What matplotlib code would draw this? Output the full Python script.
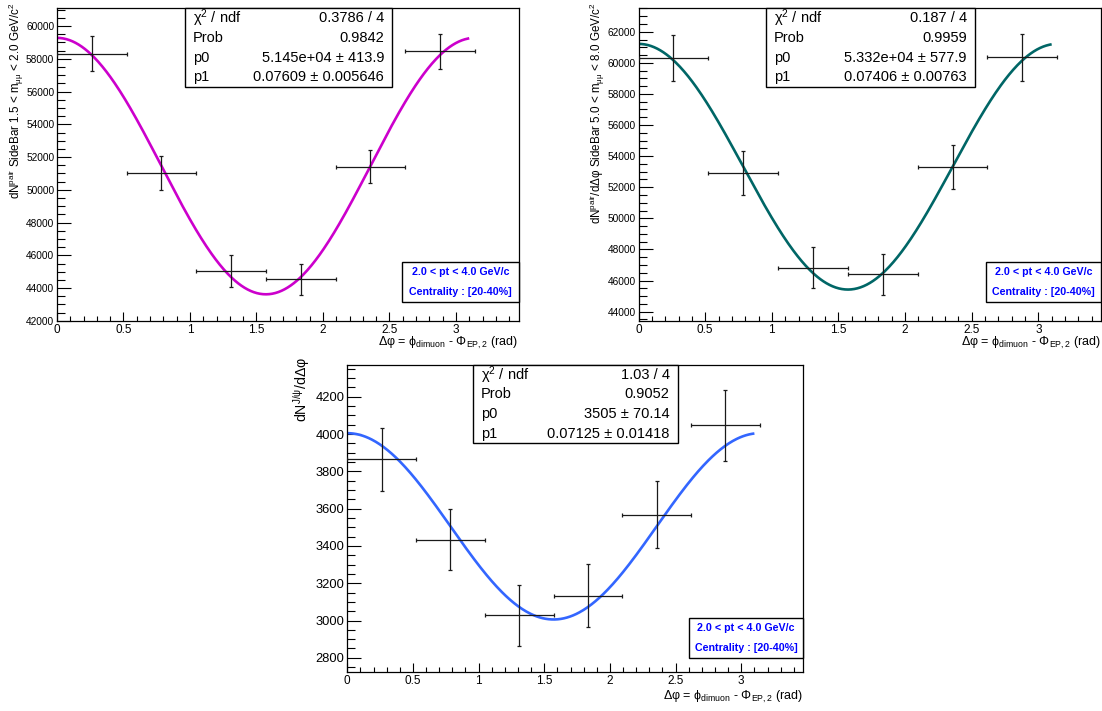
import numpy as np
import matplotlib
matplotlib.use("Agg")
import matplotlib.pyplot as plt
from matplotlib.patches import Rectangle
from matplotlib.ticker import MultipleLocator

plt.rcParams['font.family'] = ['Liberation Sans', 'DejaVu Sans']
plt.rcParams['mathtext.fontset'] = 'custom'
plt.rcParams['mathtext.rm'] = 'Liberation Sans'
plt.rcParams['mathtext.default'] = 'regular'

W, H = 1102, 711

# ---- data ----
dphi = [0.2618, 0.7854, 1.3090, 1.8326, 2.3562, 2.8798]
dphi_halfwidth = [0.2618] * 6

y_low = [58310, 51050, 45040, 44550, 51400, 58450]
e_low = [1070, 1030, 960, 950, 1010, 1090]
y_high = [60290, 52890, 46820, 46400, 53280, 60350]
e_high = [1480, 1420, 1330, 1340, 1415, 1490]
y_jpsi = [3864, 3434, 3028, 3133, 3568, 4046]
e_jpsi = [170, 162, 164, 170, 181, 190]

fit_p0 = [5.145e4, 5.332e4, 3505]
fit_p1 = [0.07609, 0.07406, 0.07125]
fit_range = [0.0, 3.09]

stat_labels = ["χ$^{2}$ / ndf", "Prob", "p0", "p1"]
stat_values = [
    ["0.3786 / 4", "0.9842", "5.145e+04 ± 413.9", "0.07609 ± 0.005646"],
    ["0.187 / 4", "0.9959", "5.332e+04 ± 577.9", "0.07406 ± 0.00763"],
    ["1.03 / 4", "0.9052", "3505 ± 70.14", "0.07125 ± 0.01418"],
]
ylabels = [
    "dN$^{pair}$ SideBar 1.5 < m$_{μμ}$ < 2.0 GeV/c$^{2}$",
    "dN$^{pair}$/dΔφ SideBar 5.0 < m$_{μμ}$ < 8.0 GeV/c$^{2}$",
    "dN$^{J/ψ}$/dΔφ",
]
xlabel = "Δφ = ϕ$_{dimuon}$ - Φ$_{EP,2}$ (rad)"
info_lines = ["2.0 < pt < 4.0 GeV/c", "Centrality : [20-40%]"]

colors = ['#cc00cc', '#006666', '#3366ff']

# ---- layout (pixels) ----
panels = [
    dict(ax=(57, 8.4, 518.5, 321), ylim=(41990, 61080), ymaj=2000, ymin=500, ytick_fs=7.3,
         stat=(185, 8.4, 392, 87.3), info=(402, 262, 518.5, 301.7),
         ylab=(16, 2), ylab_fs=8.4, xlab_base=346),
    dict(ax=(638.6, 8.4, 1101, 321), ylim=(43400, 63500), ymaj=2000, ymin=500, ytick_fs=7.3,
         stat=(766, 8.4, 975, 87.3), info=(986, 262, 1101, 301.7),
         ylab=(597, 2), ylab_fs=8.4, xlab_base=346),
    dict(ax=(347.3, 365, 803, 671.6), ylim=(2726, 4370), ymaj=200, ymin=50, ytick_fs=9.3,
         stat=(473, 365, 677.6, 443.3), info=(689, 618, 803, 658),
         ylab=(302, 357), ylab_fs=10.2, xlab_base=700),
]
series = [(y_low, e_low), (y_high, e_high), (y_jpsi, e_jpsi)]

fig = plt.figure(figsize=(W / 100, H / 100), dpi=100)


def fx(px):
    return px / W


def fy(py):
    return 1 - py / H


for i, p in enumerate(panels):
    l, t, r, b = p['ax']
    ax = fig.add_axes([fx(l), fy(b), fx(r) - fx(l), fy(t) - fy(b)])
    ax.set_xlim(0, 3.47)
    ax.set_ylim(*p['ylim'])
    yv, ev = series[i]
    ax.errorbar(dphi, yv, xerr=dphi_halfwidth, yerr=ev, fmt='none', ecolor='#1a1a1a',
                elinewidth=0.9, capsize=1.6, capthick=0.9, zorder=3)
    xs = np.linspace(fit_range[0], fit_range[1], 400)
    ys = fit_p0[i] * (1 + 2 * fit_p1[i] * np.cos(2 * xs))
    ax.plot(xs, ys, color=colors[i], lw=1.9, zorder=2)

    ax.xaxis.set_major_locator(MultipleLocator(0.5))
    ax.xaxis.set_minor_locator(MultipleLocator(0.1))
    ax.yaxis.set_major_locator(MultipleLocator(p['ymaj']))
    ax.yaxis.set_minor_locator(MultipleLocator(p['ymin']))
    ax.xaxis.set_major_formatter(matplotlib.ticker.FuncFormatter(lambda v, pos: ('%g' % v)))
    ax.tick_params(axis='y', which='major', direction='in', length=10, width=0.8,
                   labelsize=p['ytick_fs'], pad=2, right=False)
    ax.tick_params(axis='y', which='minor', direction='in', length=5.4, width=0.8, right=False)
    ax.tick_params(axis='x', which='major', direction='in', length=6.7, width=0.8,
                   labelsize=8.5, pad=2.5, top=False)
    ax.tick_params(axis='x', which='minor', direction='in', length=3.4, width=0.8, top=False)
    for s in ax.spines.values():
        s.set_linewidth(0.9)
        s.set_color('black')

    # y label
    xl, yt = p['ylab']
    fig.text(fx(xl), fy(yt), ylabels[i], rotation=90, ha='center', va='top',
             fontsize=p['ylab_fs'])
    # x label
    fig.text(fx(r), fy(p['xlab_base']), xlabel, ha='right', va='baseline', fontsize=9)

    # stat box
    sl, st, sr, sb = p['stat']
    fig.add_artist(Rectangle((fx(sl), fy(sb)), fx(sr) - fx(sl), fy(st) - fy(sb),
                             transform=fig.transFigure, facecolor='white',
                             edgecolor='black', lw=1.0, zorder=5))
    rh = (sb - st) / 4
    for k in range(4):
        yc = st + (k + 0.5) * rh
        fig.text(fx(sl + 8), fy(yc), stat_labels[k], ha='left', va='center',
                 fontsize=10.5, zorder=6)
        fig.text(fx(sr - 8), fy(yc), stat_values[i][k], ha='right', va='center',
                 fontsize=10.5, zorder=6)

    # info box
    il, it_, ir, ib = p['info']
    fig.add_artist(Rectangle((fx(il), fy(ib)), fx(ir) - fx(il), fy(it_) - fy(ib),
                             transform=fig.transFigure, facecolor='white',
                             edgecolor='black', lw=1.0, zorder=5))
    ih = (ib - it_) / 2
    for k in range(2):
        yc = it_ + (k + 0.5) * ih
        fig.text(fx((il + ir) / 2), fy(yc), info_lines[k], ha='center', va='center',
                 fontsize=7.7, fontweight='bold', color='#0000ff', zorder=6)

fig.savefig('out.png', dpi=100)
